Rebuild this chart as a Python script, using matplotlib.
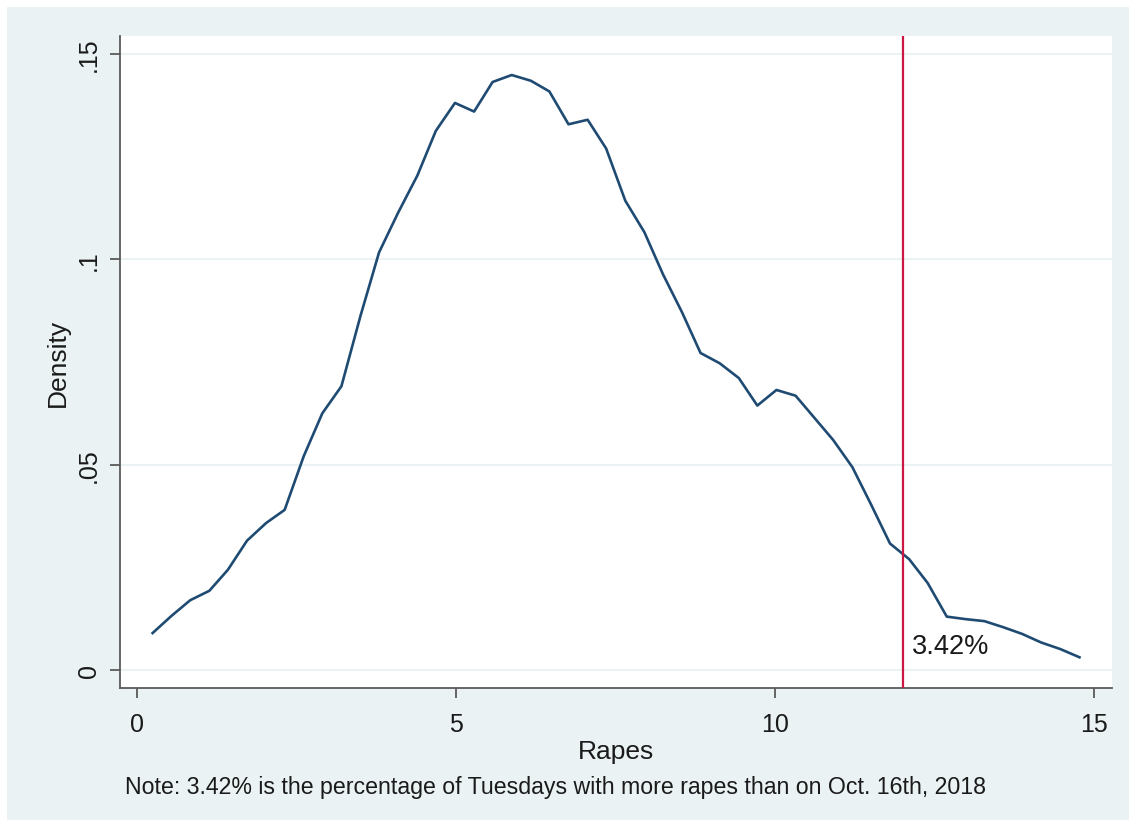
import matplotlib
matplotlib.use("Agg")
import matplotlib.pyplot as plt
from matplotlib.patches import Rectangle

# kernel density of rapes on Tuesdays (50 evaluation points)
rapes = [0.24, 0.53, 0.83, 1.13, 1.42, 1.72, 2.02, 2.31, 2.61, 2.90,
         3.20, 3.50, 3.79, 4.09, 4.39, 4.68, 4.98, 5.28, 5.57, 5.87,
         6.17, 6.46, 6.76, 7.06, 7.35, 7.65, 7.95, 8.24, 8.54, 8.83,
         9.13, 9.43, 9.72, 10.02, 10.32, 10.61, 10.91, 11.21, 11.50, 11.80,
         12.10, 12.39, 12.69, 12.98, 13.28, 13.58, 13.87, 14.17, 14.47, 14.77]
density = [0.0090, 0.0131, 0.0170, 0.0193, 0.0244, 0.0315, 0.0358, 0.0390, 0.0521, 0.0625,
           0.0691, 0.0863, 0.1017, 0.1114, 0.1204, 0.1313, 0.1381, 0.1360, 0.1432, 0.1449,
           0.1435, 0.1409, 0.1329, 0.1340, 0.1270, 0.1143, 0.1066, 0.0964, 0.0871, 0.0772,
           0.0747, 0.0711, 0.0644, 0.0682, 0.0668, 0.0615, 0.0560, 0.0494, 0.0404, 0.0308,
           0.0270, 0.0212, 0.0130, 0.0124, 0.0119, 0.0104, 0.0088, 0.0067, 0.0051, 0.0031]

oct16_rapes = 12
share_label = "3.42%"
x_ticks = [0, 5, 10, 15]
x_ticklabels = ["0", "5", "10", "15"]
y_ticks = [0, 0.05, 0.1, 0.15]
y_ticklabels = ["0", ".05", ".1", ".15"]
note = "Note: 3.42% is the percentage of Tuesdays with more rapes than on Oct. 16th, 2018"

plt.rcParams['font.family'] = ['Liberation Sans', 'DejaVu Sans']

bg = '#EAF2F3'
line_col = '#1F4B73'
red = '#CC1744'
axis_col = '#5A5A5A'

W, H = 1136, 828
fig = plt.figure(figsize=(W / 100, H / 100), dpi=100, facecolor='white')

# Stata-style graph region, kept behind the axes
fig.patches.append(Rectangle((7 / W, 1 - 821 / H), (1129 - 7) / W, (821 - 8) / H,
                             transform=fig.transFigure, facecolor=bg,
                             edgecolor='none', zorder=-10))

ax = fig.add_axes([120 / W, 1 - 689 / H, (1112 - 120) / W, (689 - 37) / H])
ax.set_facecolor('white')

ax.plot(rapes, density, color=line_col, lw=1.9, zorder=3)
ax.axvline(oct16_rapes, color=red, lw=1.6, zorder=4)
ax.text(12.15, 0.0058, share_label, fontsize=19.6, ha='left', va='center', color='#1a1a1a')

ax.set_xlim(-0.271, 15.28)
ax.set_ylim(-0.00438, 0.1544)

ax.set_xticks(x_ticks)
ax.set_xticklabels(x_ticklabels)
ax.set_yticks(y_ticks)
ax.set_yticklabels(y_ticklabels, rotation=90, va='center')

ax.grid(axis='y', color=bg, lw=1.5, zorder=0)
ax.set_axisbelow(True)

for s in ['top', 'right']:
    ax.spines[s].set_visible(False)
for s in ['left', 'bottom']:
    ax.spines[s].set_color(axis_col)
    ax.spines[s].set_linewidth(1.3)

ax.tick_params(axis='both', direction='out', length=7.5, width=1.3, color=axis_col,
               labelsize=18, labelcolor='#1a1a1a')
ax.tick_params(axis='x', pad=10)
ax.tick_params(axis='y', pad=6)

ax.set_xlabel("Rapes", fontsize=19, color='#1a1a1a', labelpad=2)
ax.set_ylabel("Density", fontsize=19, color='#1a1a1a', labelpad=5)

fig.text(125 / W, 1 - 788 / H, note, fontsize=16.7, ha='left', va='center', color='#1a1a1a')

fig.savefig('out.png', dpi=100, facecolor='white')
